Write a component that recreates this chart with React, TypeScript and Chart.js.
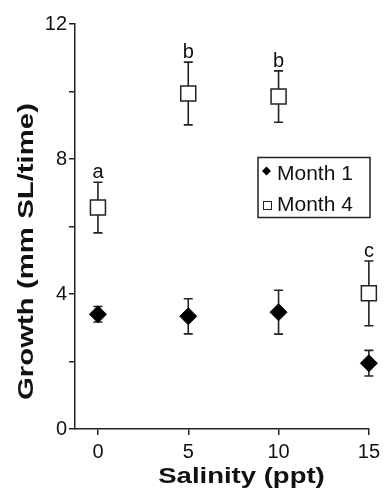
import { useEffect, useRef } from "react";
import { Chart, registerables } from "chart.js";

Chart.register(...registerables);

const salinity = [0, 5, 10, 15];
const month1 = [3.4, 3.34, 3.46, 1.95];
const month1Err = [0.23, 0.52, 0.65, 0.38];
const month4 = [6.56, 9.94, 9.85, 4.02];
const month4Err = [0.75, 0.93, 0.76, 0.96];
const month4Letters = ["a", "b", "b", "c"];
const xTicks = [0, 5, 10, 15];
const yTicks = [0, 2, 4, 6, 8, 10, 12];
const yLabels = ["0", "", "4", "", "8", "", "12"];
const seriesLabels = ["Month 1", "Month 4"];
const xTitle = "Salinity (ppt)";
const yTitle = "Growth (mm SL/time)";

const FONT = "'Liberation Sans', Arial, Helvetica, sans-serif";
const INK = "#111";

const errorSets = [month1Err, month4Err];
const valueSets = [month1, month4];

const errorBarPlugin = {
  id: "errorBars",
  beforeDatasetsDraw(chart: any) {
    const { ctx } = chart;
    const yScale = chart.scales.y;
    ctx.save();
    ctx.strokeStyle = "#222";
    ctx.lineWidth = 1.6;
    valueSets.forEach((vals, di) => {
      const meta = chart.getDatasetMeta(di);
      vals.forEach((v, i) => {
        const pt = meta.data[i];
        if (!pt) return;
        const x = pt.x;
        const yTop = yScale.getPixelForValue(v + errorSets[di][i]);
        const yBot = yScale.getPixelForValue(v - errorSets[di][i]);
        const cap = 4.5;
        ctx.beginPath();
        ctx.moveTo(x, yTop);
        ctx.lineTo(x, yBot);
        ctx.moveTo(x - cap, yTop);
        ctx.lineTo(x + cap, yTop);
        ctx.moveTo(x - cap, yBot);
        ctx.lineTo(x + cap, yBot);
        ctx.stroke();
      });
    });
    ctx.restore();
  },
};

const lettersPlugin = {
  id: "letters",
  afterDatasetsDraw(chart: any) {
    const { ctx } = chart;
    const yScale = chart.scales.y;
    const meta = chart.getDatasetMeta(1);
    ctx.save();
    ctx.fillStyle = INK;
    ctx.font = `20px ${FONT}`;
    ctx.textAlign = "center";
    ctx.textBaseline = "alphabetic";
    month4Letters.forEach((t, i) => {
      const pt = meta.data[i];
      if (!pt) return;
      const y = yScale.getPixelForValue(month4[i] + month4Err[i]) - 4;
      ctx.fillText(t, pt.x, y);
    });
    ctx.restore();
  },
};

const titlesPlugin = {
  id: "titles",
  afterDraw(chart: any) {
    const { ctx } = chart;
    ctx.save();
    ctx.fillStyle = INK;
    ctx.font = `bold 22px ${FONT}`;
    ctx.textAlign = "center";
    ctx.textBaseline = "alphabetic";
    ctx.save();
    ctx.translate(241.5, 483);
    ctx.scale(1.25, 1);
    ctx.fillText(xTitle, 0, 0);
    ctx.restore();
    ctx.save();
    ctx.translate(33, 251.5);
    ctx.rotate(-Math.PI / 2);
    ctx.scale(1.335, 1);
    ctx.fillText(yTitle, 0, 0);
    ctx.restore();
    ctx.restore();
  },
};

const legendPlugin = {
  id: "boxLegend",
  afterDraw(chart: any) {
    const { ctx } = chart;
    ctx.save();
    ctx.strokeStyle = "#222";
    ctx.lineWidth = 1.5;
    ctx.strokeRect(258, 157.5, 112, 60);
    ctx.font = `21px ${FONT}`;
    ctx.textAlign = "left";
    ctx.textBaseline = "middle";
    const rows = [174, 205];
    const dx = 266.5;
    const dy = rows[0] - 3;
    ctx.beginPath();
    ctx.moveTo(dx, dy - 4.5);
    ctx.lineTo(dx + 4.5, dy);
    ctx.lineTo(dx, dy + 4.5);
    ctx.lineTo(dx - 4.5, dy);
    ctx.closePath();
    ctx.fillStyle = "#000";
    ctx.fill();
    ctx.fillStyle = "#fff";
    ctx.lineWidth = 1;
    ctx.fillRect(263, rows[1] - 4, 8, 8);
    ctx.strokeRect(263.5, rows[1] - 3.5, 8, 8);
    ctx.fillStyle = INK;
    ctx.fillText(seriesLabels[0], 277, rows[0]);
    ctx.fillText(seriesLabels[1], 277, rows[1]);
    ctx.restore();
  },
};

export default function App() {
  const ref = useRef<HTMLCanvasElement | null>(null);

  useEffect(() => {
    if (!ref.current) return;
    const chart = new Chart(ref.current, {
      type: "scatter",
      data: {
        datasets: [
          {
            label: seriesLabels[0],
            data: salinity.map((x, i) => ({ x, y: month1[i] })),
            pointStyle: "rectRot",
            pointRadius: 8.5,
            backgroundColor: "#000",
            borderColor: "#000",
            borderWidth: 1,
            showLine: false,
            clip: false,
          },
          {
            label: seriesLabels[1],
            data: salinity.map((x, i) => ({ x, y: month4[i] })),
            pointStyle: "rect",
            pointRadius: 10.6,
            backgroundColor: "#fff",
            borderColor: "#222",
            borderWidth: 1.5,
            showLine: false,
            clip: false,
          },
        ],
      },
      options: {
        responsive: false,
        animation: false,
        devicePixelRatio: 1,
        layout: { padding: { top: 24, right: 15, left: 0, bottom: 0 } },
        plugins: {
          legend: { display: false },
          tooltip: { enabled: false },
        },
        scales: {
          x: {
            type: "linear",
            min: -1.27,
            max: 15,
            afterBuildTicks: (s: any) => {
              s.ticks = xTicks.map((v) => ({ value: v }));
            },
            afterFit: (s: any) => {
              s.height = 63;
            },
            ticks: {
              font: { size: 20, family: FONT },
              color: INK,
              padding: 5,
              autoSkip: false,
              maxRotation: 0,
            },
            grid: {
              display: true,
              drawOnChartArea: false,
              drawTicks: true,
              tickLength: 6,
              color: "#222",
              lineWidth: 1.5,
            },
            border: { display: true, color: "#222", width: 1.5 },
          },
          y: {
            type: "linear",
            min: 0,
            max: 12,
            afterBuildTicks: (s: any) => {
              s.ticks = yTicks.map((v) => ({ value: v }));
            },
            afterFit: (s: any) => {
              s.width = 75;
            },
            ticks: {
              font: { size: 20, family: FONT },
              color: INK,
              padding: 2,
              autoSkip: false,
              callback: (v: any) => yLabels[yTicks.indexOf(Number(v))] ?? "",
            },
            grid: {
              display: true,
              drawOnChartArea: false,
              drawTicks: true,
              tickLength: 6,
              color: "#222",
              lineWidth: 1.5,
            },
            border: { display: true, color: "#222", width: 1.5 },
          },
        },
      },
      plugins: [errorBarPlugin, lettersPlugin, titlesPlugin, legendPlugin],
    });
    return () => chart.destroy();
  }, []);

  return (
    <div style={{ position: "fixed", left: 0, top: 0, width: 385, height: 492, background: "#fff" }}>
      <canvas ref={ref} width={385} height={492} style={{ display: "block", width: 385, height: 492 }} />
    </div>
  );
}
